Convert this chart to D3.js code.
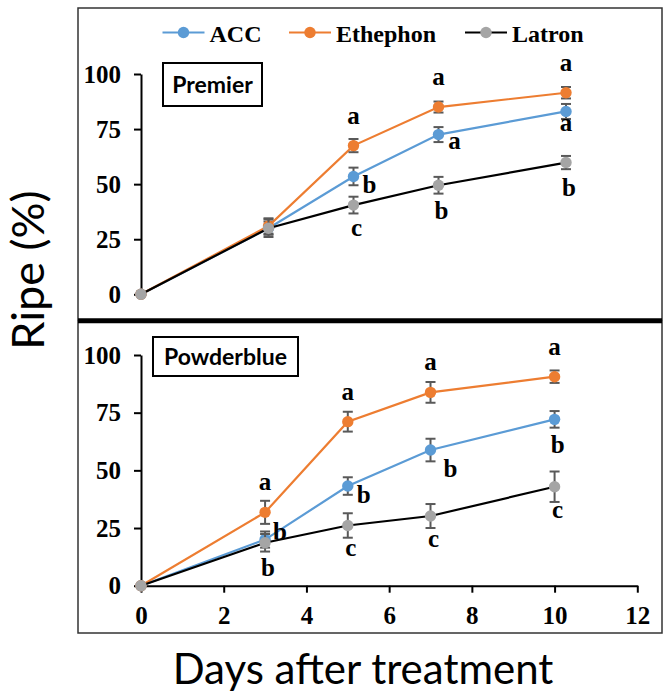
<!DOCTYPE html>
<html>
<head>
<meta charset="utf-8">
<script src="https://cdn.jsdelivr.net/npm/d3@7"></script>
<style>
  body { margin: 0; background: #fff; }
  svg { display: block; }
  .tick text { font-family: "Liberation Serif", "Times New Roman", serif; font-weight: bold; font-size: 25px; fill: #000; }
</style>
</head>
<body>
<svg width="663" height="700"></svg>
<script>
// days after treatment
var days = [0, 3, 5, 7, 10];
var seriesNames = ["ACC", "Ethephon", "Latron"];
var yTicks = [0, 25, 50, 75, 100];
var xTicks = [0, 2, 4, 6, 8, 10, 12];

// Premier
var premierACC = [0, 30, 53.5, 72.5, 83];
var premierACCErr = [0, 3, 4, 3.4, 3.4];
var premierEth = [0, 31, 67.5, 85, 91.5];
var premierEthErr = [0, 3.5, 3, 2.5, 2.6];
var premierLat = [0, 30, 40.5, 49.5, 59.8];
var premierLatErr = [0, 4, 3.8, 3.8, 3];
var premierACCLetters = ["", "", "b", "a", "a"];
var premierEthLetters = ["", "", "a", "a", "a"];
var premierLatLetters = ["", "", "c", "b", "b"];
var premierACCPlace = ["", "", "r", "r", "bn"];
var premierEthPlace = ["", "", "t", "t", "t"];
var premierLatPlace = ["", "", "b", "b", "b"];

// Powderblue
var powderACC = [0, 20, 43.2, 58.8, 72.1];
var powderACCErr = [0, 3.5, 3.8, 4.9, 3.6];
var powderEth = [0, 31.8, 71.1, 83.8, 90.6];
var powderEthErr = [0, 5, 4.3, 4.5, 2.7];
var powderLat = [0, 18.6, 26.1, 30.2, 42.9];
var powderLatErr = [0, 3.8, 5.3, 5.2, 6.6];
var powderACCLetters = ["", "b", "b", "b", "b"];
var powderEthLetters = ["", "a", "a", "a", "a"];
var powderLatLetters = ["", "b", "c", "c", "c"];
var powderACCPlace = ["", "ur", "r", "dr", "b"];
var powderEthPlace = ["", "t", "t", "t", "t"];
var powderLatPlace = ["", "b", "b", "b", "b"];

var lineColors = ["#5B9BD5", "#ED7D31", "#000000"];
var markColors = ["#5B9BD5", "#ED7D31", "#A5A5A5"];
var serif = '"Liberation Serif", "Times New Roman", serif';
var sans = 'Lato, "Open Sans", sans-serif';

// letter offsets (visual centre relative to the point)
var placeOff = { t: [0, -28], r: [16, 8], ur: [15, -8], dr: [20, 18], b: [3, 25], bn: [0, 14] };

var panels = [
  { name: "Premier", x: [141, 651], y: [294.3, 74], xAxis: false,
    box: [163, 63, 99, 43],
    vals: [premierACC, premierEth, premierLat],
    errs: [premierACCErr, premierEthErr, premierLatErr],
    letters: [premierACCLetters, premierEthLetters, premierLatLetters],
    place: [premierACCPlace, premierEthPlace, premierLatPlace] },
  { name: "Powderblue", x: [141, 637.3], y: [585.7, 355], xAxis: true,
    box: [153, 337, 145, 39],
    vals: [powderACC, powderEth, powderLat],
    errs: [powderACCErr, powderEthErr, powderLatErr],
    letters: [powderACCLetters, powderEthLetters, powderLatLetters],
    place: [powderACCPlace, powderEthPlace, powderLatPlace] }
];

var svg = d3.select("svg");

// outer frames
svg.append("rect").attr("x", 78).attr("y", 8).attr("width", 584).attr("height", 312)
  .attr("fill", "none").attr("stroke", "#333").attr("stroke-width", 1.5);
svg.append("rect").attr("x", 78).attr("y", 321).attr("width", 584).attr("height", 312)
  .attr("fill", "none").attr("stroke", "#333").attr("stroke-width", 1.5);
svg.append("line").attr("x1", 78).attr("x2", 662).attr("y1", 320.8).attr("y2", 320.8)
  .attr("stroke", "#000").attr("stroke-width", 5);

panels.forEach(function(p) {
  var x = d3.scaleLinear().domain([0, 12]).range(p.x);
  var y = d3.scaleLinear().domain([0, 100]).range(p.y);
  var g = svg.append("g");

  var yAxis = g.append("g").attr("transform", "translate(" + p.x[0] + ",0)")
    .call(d3.axisLeft(y).tickValues(yTicks).tickSize(7).tickSizeOuter(0).tickPadding(13));
  yAxis.select(".domain").attr("stroke-width", 2);
  yAxis.selectAll(".tick line").attr("stroke-width", 2);

  if (p.xAxis) {
    var xAxis = g.append("g").attr("transform", "translate(0," + p.y[0] + ")")
      .call(d3.axisBottom(x).tickValues(xTicks).tickSize(7).tickSizeOuter(0).tickPadding(14));
    xAxis.select(".domain").attr("stroke-width", 2);
    xAxis.selectAll(".tick line").attr("stroke-width", 2);
  }

  // panel label box
  g.append("rect").attr("x", p.box[0]).attr("y", p.box[1]).attr("width", p.box[2]).attr("height", p.box[3])
    .attr("fill", "#fff").attr("stroke", "#000").attr("stroke-width", 2);
  g.append("text").attr("x", p.box[0] + p.box[2] / 2).attr("y", p.box[1] + p.box[3] / 2 + 8)
    .attr("text-anchor", "middle").style("font-family", sans).style("font-weight", "bold")
    .style("font-size", "23px").text(p.name);

  var line = d3.line().x(function(d, i) { return x(days[i]); }).y(function(d) { return y(d); });

  p.vals.forEach(function(v, s) {
    g.append("path").datum(v).attr("d", line).attr("fill", "none")
      .attr("stroke", lineColors[s]).attr("stroke-width", 2.2);

    var err = g.append("g").attr("stroke", "#595959").attr("stroke-width", 2);
    v.forEach(function(d, i) {
      var e = p.errs[s][i];
      if (!e) return;
      var cx = x(days[i]);
      err.append("line").attr("x1", cx).attr("x2", cx).attr("y1", y(d - e)).attr("y2", y(d + e));
      err.append("line").attr("x1", cx - 5).attr("x2", cx + 5).attr("y1", y(d - e)).attr("y2", y(d - e));
      err.append("line").attr("x1", cx - 5).attr("x2", cx + 5).attr("y1", y(d + e)).attr("y2", y(d + e));
    });

    g.selectAll(null).data(v).enter().append("circle")
      .attr("cx", function(d, i) { return x(days[i]); })
      .attr("cy", function(d) { return y(d); })
      .attr("r", 5.7).attr("fill", markColors[s]);
  });

  // significance letters
  p.vals.forEach(function(v, s) {
    v.forEach(function(d, i) {
      var L = p.letters[s][i];
      if (!L) return;
      var off = placeOff[p.place[s][i]];
      g.append("text")
        .attr("x", x(days[i]) + off[0])
        .attr("y", y(d) + off[1] + (L === "b" ? 8.5 : 6))
        .attr("text-anchor", "middle")
        .style("font-family", serif).style("font-weight", "bold").style("font-size", "25px")
        .text(L);
    });
  });
});

// legend
var legX = [183.5, 310, 486];
seriesNames.forEach(function(n, s) {
  svg.append("line").attr("x1", legX[s] - 21).attr("x2", legX[s] + 21).attr("y1", 32.5).attr("y2", 32.5)
    .attr("stroke", lineColors[s]).attr("stroke-width", 2.2);
  svg.append("circle").attr("cx", legX[s]).attr("cy", 32.5).attr("r", 5.7).attr("fill", markColors[s]);
  svg.append("text").attr("x", legX[s] + 26).attr("y", 41.5)
    .style("font-family", serif).style("font-weight", "bold").style("font-size", "24px").text(n);
});

// axis titles
svg.append("text").attr("transform", "translate(44,270) rotate(-90)").attr("text-anchor", "middle")
  .style("font-family", sans).style("font-size", "45px").text("Ripe (%)");
svg.append("text").attr("x", 363).attr("y", 684).attr("text-anchor", "middle")
  .style("font-family", sans).style("font-size", "42px").text("Days after treatment");
</script>
</body>
</html>
